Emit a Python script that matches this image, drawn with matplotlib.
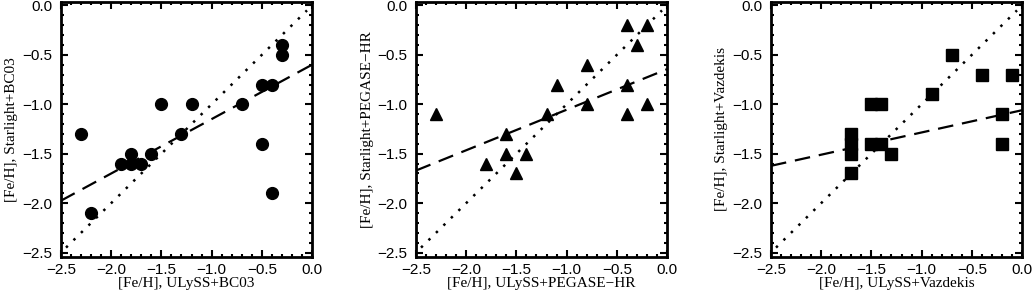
import numpy as np
import matplotlib.pyplot as plt
from matplotlib.ticker import MultipleLocator

# panel 1: ULySS+BC03 vs Starlight+BC03
x_bc03 = [-2.3, -2.2, -1.9, -1.8, -1.8, -1.7, -1.6, -1.5, -1.3, -1.2, -0.7, -0.5, -0.5, -0.4, -0.4, -0.3, -0.3]
y_bc03 = [-1.3, -2.1, -1.6, -1.5, -1.6, -1.6, -1.5, -1.0, -1.3, -1.0, -1.0, -0.8, -1.4, -0.8, -1.9, -0.4, -0.5]
fit_bc03 = [0.55, -0.6]  # pendiente, ordenada

# panel 2: PEGASE-HR
x_peg = [-2.3, -1.8, -1.6, -1.6, -1.5, -1.4, -1.2, -1.1, -0.8, -0.8, -0.4, -0.4, -0.4, -0.3, -0.2, -0.2]
y_peg = [-1.1, -1.6, -1.3, -1.5, -1.7, -1.5, -1.1, -0.8, -0.6, -1.0, -0.2, -0.8, -1.1, -0.4, -0.2, -1.0]
fit_peg = [0.41, -0.645]

# panel 3: Vazdekis
x_vaz = [-1.7, -1.7, -1.7, -1.7, -1.5, -1.4, -1.5, -1.4, -1.3, -0.9, -0.7, -0.4, -0.1, -0.2, -0.2]
y_vaz = [-1.3, -1.4, -1.5, -1.7, -1.0, -1.0, -1.4, -1.4, -1.5, -0.9, -0.5, -0.7, -0.7, -1.1, -1.4]
fit_vaz = [0.225, -1.06]

xlabels = ['[Fe/H], ULySS+BC03', '[Fe/H], ULySS+PEGASE\u2212HR', '[Fe/H], ULySS+Vazdekis']
ylabels = ['[Fe/H], Starlight+BC03', '[Fe/H], Starlight+PEGASE\u2212HR', '[Fe/H], Starlight+Vazdekis']
markers = ['o', '^', 's']

fig = plt.figure(figsize=(10.32, 2.98), dpi=100)
lefts = [61, 416, 771]
W, H = 1032.0, 298.0

datos = [(x_bc03, y_bc03, fit_bc03), (x_peg, y_peg, fit_peg), (x_vaz, y_vaz, fit_vaz)]

fmt = plt.FuncFormatter(lambda v, p: ('%.1f' % v).replace('-', '\u2212'))

for i, (x, y, fit) in enumerate(datos):
    ax = fig.add_axes([lefts[i] / W, 41.5 / H, 251 / W, 254.5 / H])
    # linea 1:1 punteada
    lin = np.array([-2.45, -0.05])
    ax.plot(lin, lin, color='k', ls=(0, (1, 3.2)), lw=1.8)
    # ajuste lineal discontinuo
    xf = np.array([-2.5, 0.0])
    ax.plot(xf, fit[0] * xf + fit[1], color='k', ls=(0, (7, 4)), lw=1.6)
    ms = 8.5 if markers[i] != 's' else 9
    ax.plot(x, y, ls='none', marker=markers[i], color='k', ms=ms)
    ax.set_xlim(-2.5, 0.0)
    ax.set_ylim(-2.54, 0.035)
    ax.xaxis.set_major_locator(MultipleLocator(0.5))
    ax.yaxis.set_major_locator(MultipleLocator(0.5))
    ax.xaxis.set_minor_locator(MultipleLocator(0.1))
    ax.yaxis.set_minor_locator(MultipleLocator(0.1))
    ax.tick_params(which='both', direction='in', top=True, right=True, width=1.5,
                   labelsize=11)
    ax.tick_params(axis='x', pad=5)
    ax.tick_params(axis='y', pad=6)
    ax.tick_params(which='major', length=5)
    ax.tick_params(which='minor', length=2.5)
    ax.xaxis.set_major_formatter(fmt)
    ax.yaxis.set_major_formatter(fmt)
    for lab in ax.get_xticklabels() + ax.get_yticklabels():
        lab.set_fontfamily('Liberation Sans')
    for s in ax.spines.values():
        s.set_linewidth(2)
    ax.set_xlabel(xlabels[i], fontfamily='Liberation Serif', fontsize=11, labelpad=0)
    ax.set_ylabel(ylabels[i], fontfamily='Liberation Serif', fontsize=11, labelpad=3)

fig.savefig('out.png', dpi=100)
